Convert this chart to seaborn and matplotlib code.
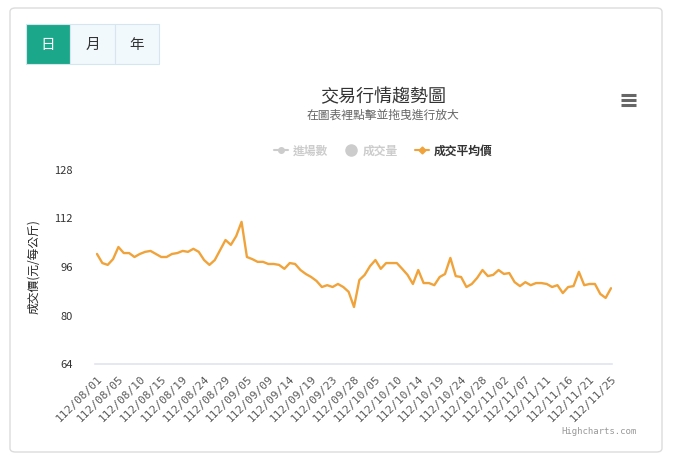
import matplotlib
matplotlib.use("Agg")
import matplotlib.pyplot as plt
from matplotlib.patches import FancyBboxPatch, Rectangle
from matplotlib.lines import Line2D
import seaborn as sns
import pandas as pd

# ---------------- data ----------------
tick_labels = ["112/08/01", "112/08/05", "112/08/10", "112/08/15", "112/08/19",
               "112/08/24", "112/08/29", "112/09/05", "112/09/09", "112/09/14",
               "112/09/19", "112/09/23", "112/09/28", "112/10/05", "112/10/10",
               "112/10/14", "112/10/19", "112/10/24", "112/10/28", "112/11/02",
               "112/11/07", "112/11/11", "112/11/16", "112/11/21", "112/11/25"]
avg_price = [100.3, 97.3, 96.7, 98.6, 102.6, 100.6, 100.6, 99.3, 100.3, 101.0,
             101.3, 100.3, 99.3, 99.3, 100.3, 100.6, 101.3, 101.0, 102.0, 101.0,
             98.3, 96.7, 98.3, 101.6, 104.9, 103.3, 106.2, 110.9, 99.3, 98.6,
             97.7, 97.7, 97.0, 97.0, 96.7, 95.4, 97.3, 97.0, 95.0, 93.7,
             92.7, 91.4, 89.4, 90.0, 89.4, 90.4, 89.4, 87.8, 82.8, 91.7,
             93.4, 96.3, 98.3, 95.4, 97.3, 97.3, 97.3, 95.4, 93.4, 90.4,
             95.0, 90.7, 90.7, 90.0, 92.7, 93.7, 99.0, 93.0, 92.7, 89.4,
             90.4, 92.4, 95.0, 93.0, 93.4, 95.0, 93.7, 94.0, 91.0, 89.7,
             91.0, 90.0, 90.7, 90.7, 90.4, 89.4, 90.0, 87.4, 89.4, 89.7,
             94.4, 90.0, 90.4, 90.4, 87.1, 85.8, 89.0]
y_ticks = [64, 80, 96, 112, 128]
legend_names = ["進場數", "成交量", "成交平均價"]
buttons = ["日", "月", "年"]
title = "交易行情趨勢圖"
subtitle = "在圖表裡點擊並拖曳進行放大"
y_label = "成交價(元/每公斤)"
credit = "Highcharts.com"

df = pd.DataFrame({"idx": range(len(avg_price)), "price": avg_price})

# ---------------- style ----------------
sns.set_theme(style="white")
plt.rcParams["font.family"] = ["Noto Sans CJK TC", "DejaVu Sans"]

W, H = 686, 467
fig = plt.figure(figsize=(W / 100, H / 100), dpi=100)

def fx(px):
    return px / W

def fy(py):
    return 1 - py / H

# card border
card = FancyBboxPatch((fx(10), fy(452)), fx(652), 444 / H,
                      boxstyle="round,pad=0,rounding_size=0.008",
                      transform=fig.transFigure, facecolor="none",
                      edgecolor="#dcdcdc", linewidth=1.0, zorder=-5)
fig.patches.append(card)

# buttons
bx = [26, 70, 115]
bw = [44, 45, 44]
for i, (b, x0, w) in enumerate(zip(buttons, bx, bw)):
    fc = "#1ba78a" if i == 0 else "#f2f9fd"
    r = Rectangle((fx(x0), fy(64)), fx(w), 40 / H, transform=fig.transFigure,
                  facecolor=fc, edgecolor="#d6e6ee", linewidth=0.8, zorder=-4)
    fig.patches.append(r)
    fig.text(fx(x0 + w / 2), fy(45), b, ha="center", va="center",
             fontsize=10.5, color="white" if i == 0 else "#333333")

# title / subtitle
fig.text(fx(383), fy(97), title, ha="center", va="center", fontsize=13,
         color="#333333")
fig.text(fx(383), fy(115), subtitle, ha="center", va="center", fontsize=8.5,
         color="#666666")

# hamburger
for yy in (94.5, 99.5, 104.5):
    fig.lines.append(Line2D([fx(621), fx(636)], [fy(yy), fy(yy)],
                            transform=fig.transFigure, color="#666666",
                            linewidth=2.2, solid_capstyle="butt"))

# ---------------- axes ----------------
ax = fig.add_axes([fx(95), fy(364), fx(612 - 95), (364 - 170) / H])
line_color = "#f0a33a"
sns.lineplot(data=df, x="idx", y="price", ax=ax, color=line_color,
             linewidth=1.7, legend=False)

n = len(avg_price)
pad = 2 * (n - 1) / 514
ax.set_xlim(-pad, n - 1 + pad * 0.5)
ax.set_ylim(64, 128)
ax.set_yticks(y_ticks)
ax.set_yticklabels([str(v) for v in y_ticks], fontsize=8, color="#333333")
ax.tick_params(axis="y", length=0, pad=16)
ax.set_xticks(list(range(0, n, 4)))
ax.set_xticklabels(tick_labels, rotation=45, ha="right", rotation_mode="anchor",
                   fontsize=8, color="#5a5a5a", family="DejaVu Sans Mono")
ax.tick_params(axis="x", length=0, pad=7)
ax.set_xlabel("")
ax.set_ylabel(y_label, fontsize=8.5, color="#222222", labelpad=10)
for s in ["top", "right", "left"]:
    ax.spines[s].set_visible(False)
ax.spines["bottom"].set_color("#e2e4ef")
ax.spines["bottom"].set_linewidth(1.2)
ax.grid(False)
ax.set_facecolor("none")

# legend
handles = [
    Line2D([0], [0], color="#cccccc", marker="o", markersize=4, linewidth=1.5),
    Line2D([0], [0], color="#cccccc", marker="o", markersize=8, linewidth=0),
    Line2D([0], [0], color=line_color, marker="D", markersize=3.5, linewidth=1.5),
]
leg = fig.legend(handles, legend_names, loc="center", ncol=3,
                 bbox_to_anchor=(fx(383), fy(151)), frameon=False,
                 fontsize=8.5, handlelength=1.2, handletextpad=0.4,
                 columnspacing=1.4)
for t, c in zip(leg.get_texts(), ["#cccccc", "#cccccc", "#333333"]):
    t.set_color(c)
    t.set_fontweight("bold")

fig.text(fx(637), fy(432), credit, ha="right", va="center", fontsize=6.5,
         color="#999999", family="DejaVu Sans Mono")

fig.savefig("out.png", dpi=100)
